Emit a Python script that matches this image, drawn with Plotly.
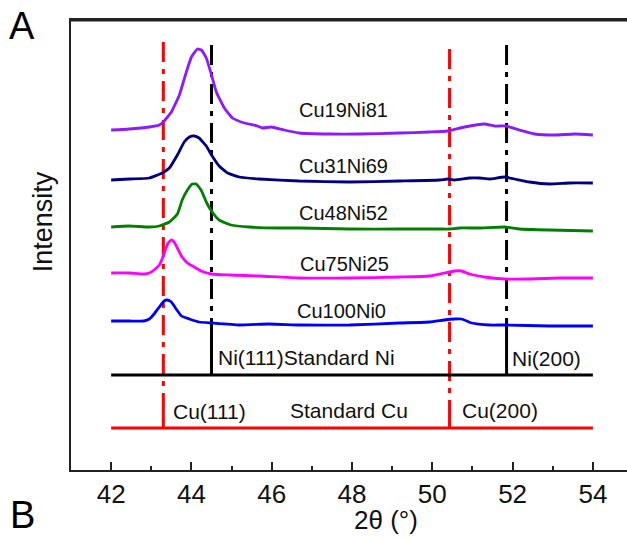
import plotly.graph_objects as go

# ---------------- data (2θ in degrees, stacked intensity in a.u.) ----------------
x_cu19ni81 = [42.0, 42.45, 42.95, 43.2, 43.3, 43.5, 43.7, 43.85, 44.0, 44.15, 44.25, 44.37, 44.5, 44.62,
              44.82, 45.02, 45.32, 45.64, 45.77, 45.99, 46.31, 46.69, 47.44, 48.18, 49.18, 49.93, 50.38,
              50.8, 51.3, 51.55, 51.83, 52.17, 52.55, 53.05, 53.55, 54.0]
y_cu19ni81 = [340, 341, 343, 345, 348, 358, 375, 395, 413, 421, 420, 412, 395, 378,
              362, 352, 347, 344, 342, 343, 340, 337, 336, 336, 337, 338, 339,
              343, 346, 344, 344, 340, 336, 335, 336, 335]

x_cu31ni69 = [42.0, 42.45, 42.95, 43.27, 43.45, 43.65, 43.82, 43.95, 44.07, 44.19, 44.37, 44.5, 44.69,
              44.9, 45.19, 45.69, 46.69, 47.94, 49.18, 50.18, 50.38, 50.55, 50.93, 51.18, 51.43, 51.8,
              52.05, 52.42, 52.92, 53.42, 54.0]
y_cu31ni69 = [290, 291, 292, 297, 302, 315, 328, 333, 334, 332, 324, 315, 304,
              297, 293, 291, 289, 288, 289, 290, 291, 290, 292, 292, 291, 293,
              291, 288, 286, 287, 287]

x_cu48ni52 = [42.0, 42.45, 42.95, 43.2, 43.45, 43.65, 43.77, 43.9, 44.02, 44.12, 44.24, 44.37, 44.5,
              44.69, 44.99, 45.44, 46.19, 46.69, 47.94, 49.18, 50.18, 50.43, 50.68, 51.18, 51.8, 52.17,
              52.92, 54.0]
y_cu48ni52 = [243, 244, 243, 244, 248, 256, 270, 280, 286, 286, 280, 268, 259,
              250, 245, 243, 242, 242, 241, 241, 241, 241, 242, 242, 243, 241,
              240, 239]

x_cu75ni25 = [42.0, 42.45, 42.82, 42.95, 43.07, 43.2, 43.27, 43.35, 43.42, 43.5, 43.57, 43.65, 43.75,
              43.9, 44.07, 44.24, 44.5, 44.94, 45.69, 46.69, 47.94, 49.18, 49.93, 50.3, 50.55, 50.73,
              50.93, 51.3, 51.8, 52.42, 53.17, 54.0]
y_cu75ni25 = [197, 197, 196, 197, 200, 205, 211, 220, 227, 230, 228, 222, 214,
              207, 203, 199, 196, 195, 194, 192, 192, 193, 194, 197, 199, 199,
              196, 193, 191, 191, 192, 192]

x_cu100ni0 = [42.0, 42.45, 42.82, 42.95, 43.07, 43.2, 43.32, 43.4, 43.5, 43.62, 43.75, 43.95, 44.19,
              44.5, 45.19, 45.94, 46.69, 47.94, 49.18, 49.93, 50.3, 50.55, 50.73, 50.98, 51.43, 51.8,
              52.92, 54.0]
y_cu100ni0 = [149, 149, 149, 151, 156, 163, 169, 170, 168, 161, 154, 151, 148,
              147, 145, 146, 145, 145, 147, 148, 150, 151, 151, 147, 145, 145,
              144, 144]

sample_names = ["Cu19Ni81", "Cu31Ni69", "Cu48Ni52", "Cu75Ni25", "Cu100Ni0"]
sample_colors = ["#8C1AFF", "#000080", "#008000", "#FF00FF", "#0000FF"]

# standard patterns
x_range_std = [42.0, 54.0]
ni_baseline = 95
cu_baseline = 42
ni_peaks = [44.5, 51.85]          # Ni(111), Ni(200)
ni_stick_top = 140
cu_peaks = [43.3, 50.43]          # Cu(111), Cu(200)
cu_stick_top = 70
guide_tops = [428, 425, 421, 425]  # tops of the dash-dot guide lines (Cu111, Ni111, Cu200, Ni200)

x_ticks = [42, 44, 46, 48, 50, 52, 54]

fig = go.Figure()
FONT = "Liberation Sans, Arial, sans-serif"
dash = "20px,7px,5px,7px"

# dash-dot guide lines
guides = [(cu_peaks[0], cu_stick_top, guide_tops[0], "#FF0000"),
          (ni_peaks[0], ni_stick_top, guide_tops[1], "#000000"),
          (cu_peaks[1], cu_stick_top, guide_tops[2], "#FF0000"),
          (ni_peaks[1], ni_stick_top, guide_tops[3], "#000000")]
for gx, y0, y1, col in guides:
    fig.add_trace(go.Scatter(x=[gx, gx], y=[y1, y0], mode="lines",
                             line=dict(color=col, width=3, dash=dash),
                             showlegend=False, hoverinfo="skip"))

# standard Ni pattern
fig.add_trace(go.Scatter(x=x_range_std, y=[ni_baseline, ni_baseline], mode="lines",
                         line=dict(color="#000000", width=3), showlegend=False))
for p in ni_peaks:
    fig.add_trace(go.Scatter(x=[p, p], y=[ni_baseline, ni_stick_top], mode="lines",
                             line=dict(color="#000000", width=3), showlegend=False))
# standard Cu pattern
fig.add_trace(go.Scatter(x=x_range_std, y=[cu_baseline, cu_baseline], mode="lines",
                         line=dict(color="#FF0000", width=3), showlegend=False))
for p in cu_peaks:
    fig.add_trace(go.Scatter(x=[p, p], y=[cu_baseline, cu_stick_top], mode="lines",
                             line=dict(color="#FF0000", width=3), showlegend=False))

# samples
series = [(x_cu19ni81, y_cu19ni81), (x_cu31ni69, y_cu31ni69), (x_cu48ni52, y_cu48ni52),
          (x_cu75ni25, y_cu75ni25), (x_cu100ni0, y_cu100ni0)]
for (xs, ys), name, col in zip(series, sample_names, sample_colors):
    fig.add_trace(go.Scatter(x=xs, y=ys, mode="lines", name=name,
                             line=dict(color=col, width=2.8, shape="spline", smoothing=0.4),
                             showlegend=False))

# labels
ann = []
label_pos = [(46.64, 360), (46.64, 304), (46.64, 257), (46.66, 206), (46.59, 159)]
for (lx, ly), name in zip(label_pos, sample_names):
    ann.append(dict(x=lx, y=ly, xref="x", yref="y", text=name, showarrow=False,
                    xanchor="left", yanchor="middle", font=dict(size=20, color="#111", family=FONT)))
std_labels = [("Ni(111)Standard Ni", 44.62, 113), ("Ni(200)", 51.93, 112),
              ("Cu(111)", 43.5, 59), ("Standard Cu", 46.41, 60), ("Cu(200)", 50.7, 60)]
for t, lx, ly in std_labels:
    ann.append(dict(x=lx, y=ly, xref="x", yref="y", text=t, showarrow=False,
                    xanchor="left", yanchor="middle", font=dict(size=21, color="#111", family=FONT)))

ann.append(dict(x=-0.088, y=0.987, xref="paper", yref="paper", text="A", showarrow=False,
                xanchor="center", yanchor="middle", font=dict(size=38, color="#000", family=FONT)))
ann.append(dict(x=-0.088, y=-0.10, xref="paper", yref="paper", text="B", showarrow=False,
                xanchor="center", yanchor="middle", font=dict(size=38, color="#000", family=FONT)))
ann.append(dict(x=-0.05, y=0.551, xref="paper", yref="paper", text="Intensity", showarrow=False,
                textangle=-90, xanchor="center", yanchor="middle",
                font=dict(size=27, color="#111", family=FONT)))
ann.append(dict(x=0.567, y=-0.111, xref="paper", yref="paper", text="2θ (°)", showarrow=False,
                xanchor="center", yanchor="middle", font=dict(size=26, color="#111", family=FONT)))

fig.update_layout(
    width=627, height=540,
    margin=dict(l=71, r=0, t=20, b=70),
    paper_bgcolor="white", plot_bgcolor="white",
    annotations=ann,
    shapes=[dict(type="line", xref="paper", yref="paper", x0=0, x1=1, y0=0.999, y1=0.999,
                 line=dict(color="#222222", width=2), layer="above")],
    xaxis=dict(range=[41, 54.85], showgrid=False, zeroline=False,
               showline=True, linecolor="#222", linewidth=2, mirror=True,
               tickmode="array", tickvals=x_ticks, ticktext=[str(v) for v in x_ticks],
               ticks="inside", ticklen=8, tickwidth=2, tickcolor="#222",
               minor=dict(ticks="inside", ticklen=4, tickwidth=2, dtick=1, tick0=41, tickcolor="#222"),
               tickfont=dict(size=26, color="#111", family=FONT)),
    yaxis=dict(range=[0, 450], showgrid=False, zeroline=False,
               showline=True, linecolor="#222", linewidth=2, mirror=False,
               ticks="", showticklabels=False),
)

fig.write_html("out.html", config={"displayModeBar": False},
               post_script="document.body.style.margin='0';document.body.style.overflow='hidden';")
